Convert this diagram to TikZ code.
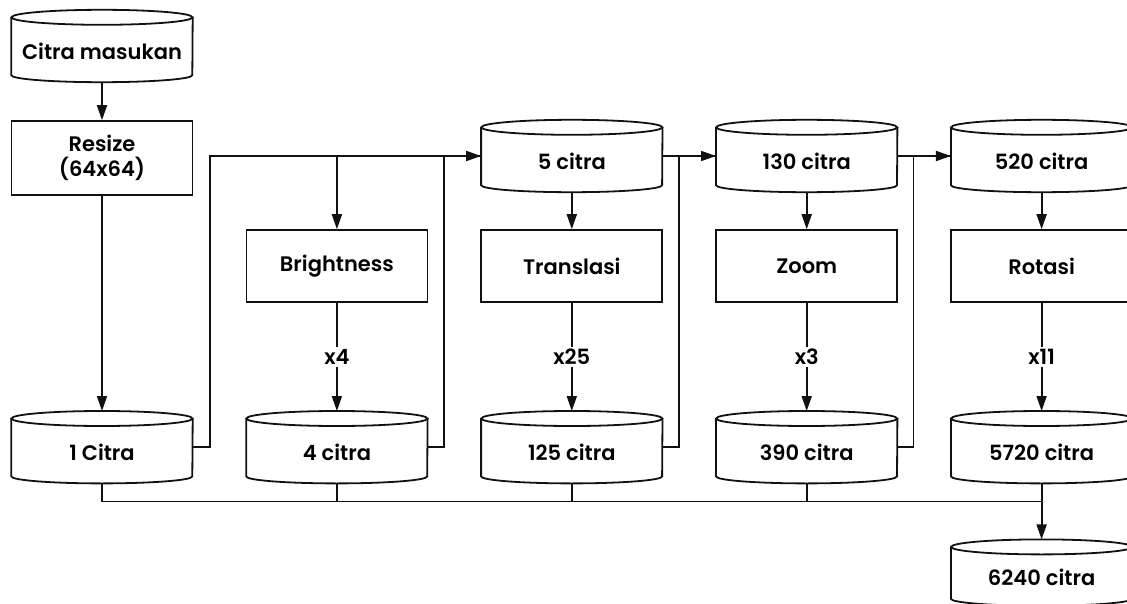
\documentclass[tikz,border=0pt]{standalone}
\usepackage{fontspec}
\setmainfont{Poppins}[BoldFont={Poppins SemiBold}]
\usetikzlibrary{arrows.meta,positioning}
\definecolor{flowink}{HTML}{111111}
\tikzset{
  cylBox/.style={rectangle, minimum width=181pt, minimum height=72pt, inner sep=0pt, text height=27pt, text depth=0pt, align=center, font=\fontsize{21}{25}\selectfont\bfseries},
  procBox/.style={rectangle, draw=flowink, line width=1.8pt, minimum width=181pt, minimum height=72pt, inner sep=0pt, align=center, font=\fontsize{21}{25}\selectfont\bfseries},
  flowArrow/.style={-{Triangle[length=15pt,width=10pt]}, line width=1.8pt, draw=flowink},
  flowLine/.style={line width=1.8pt, draw=flowink},
  countLabel/.style={fill=white, inner sep=2pt, font=\fontsize{21}{25}\selectfont\bfseries}
}
\begin{document}
\begin{tikzpicture}[x=1pt, y=1pt, node distance=37pt and 53.5pt]
  \useasboundingbox (0,0) rectangle (1127,-604);
  \node[cylBox] (masukan) at (102,-46) {Citra masukan};
  \node[procBox, minimum height=74pt, below=38pt of masukan] (resize) {Resize\\(64x64)};
  \node[cylBox, below=215pt of resize] (c1) {1 Citra};
  \node[cylBox, right=of c1] (c4) {4 citra};
  \node[procBox, above=108pt of c4] (bright) {Brightness};
  \node[cylBox, right=of c4] (c125) {125 citra};
  \node[procBox, above=108pt of c125] (trans) {Translasi};
  \node[cylBox, above=of trans] (c5) {5 citra};
  \node[cylBox, right=of c125] (c390) {390 citra};
  \node[procBox, above=108pt of c390] (zoom) {Zoom};
  \node[cylBox, above=of zoom] (c130) {130 citra};
  \node[cylBox, right=of c390] (c5720) {5720 citra};
  \node[procBox, above=108pt of c5720] (rot) {Rotasi};
  \node[cylBox, above=of rot] (c520) {520 citra};
  \node[cylBox, minimum height=66pt, text height=25pt, below=56pt of c5720] (c6240) {6240 citra};

  % cylinder outlines round the data nodes
  \foreach \set in {masukan,c1,c4,c5,c125,c130,c390,c520,c5720,c6240} {
    \draw[flowLine] ([yshift=-7.5pt]\set.north) ellipse [x radius=90.5pt, y radius=7.5pt];
    \draw[flowLine] ([yshift=-7.5pt]\set.north west) -- ([yshift=7pt]\set.south west)
      arc[start angle=180, end angle=360, x radius=90.5pt, y radius=7pt]
      -- ([yshift=-7.5pt]\set.north east);
  }

  \draw[flowArrow] (masukan) -- (resize);
  \draw[flowArrow] (resize) -- (c1);
  \draw[flowArrow] (c1.east) -- ++(17pt,0) |- (c5.west);
  \draw[flowArrow] (c5.west -| bright.north) -- (bright.north);
  \draw[flowLine] (c4.east) -- ++(16pt,0) |- (c5.west);
  \draw[flowArrow] (bright) -- node[countLabel]{x4} (c4);

  \draw[flowArrow] (c5) -- (trans);
  \draw[flowArrow] (trans) -- node[countLabel]{x25} (c125);
  \draw[flowArrow] (c5.east) -- (c130.west);
  \draw[flowLine] (c125.east) -- ++(16.5pt,0) |- (c130.west);

  \draw[flowArrow] (c130) -- (zoom);
  \draw[flowArrow] (zoom) -- node[countLabel]{x3} (c390);
  \draw[flowArrow] (c130.east) -- (c520.west);
  \draw[flowLine] (c390.east) -- ++(16pt,0) |- (c520.west);

  \draw[flowArrow] (c520) -- (rot);
  \draw[flowArrow] (rot) -- node[countLabel]{x11} (c5720);

  % collect every set on the bottom bus
  \draw[flowArrow] (c1.south) -- ++(0,-18pt) -| (c6240.north);
  \foreach \set in {c4,c125,c390,c5720}
    \draw[flowLine] (\set.south) -- ++(0,-18pt);
\end{tikzpicture}
\end{document}
